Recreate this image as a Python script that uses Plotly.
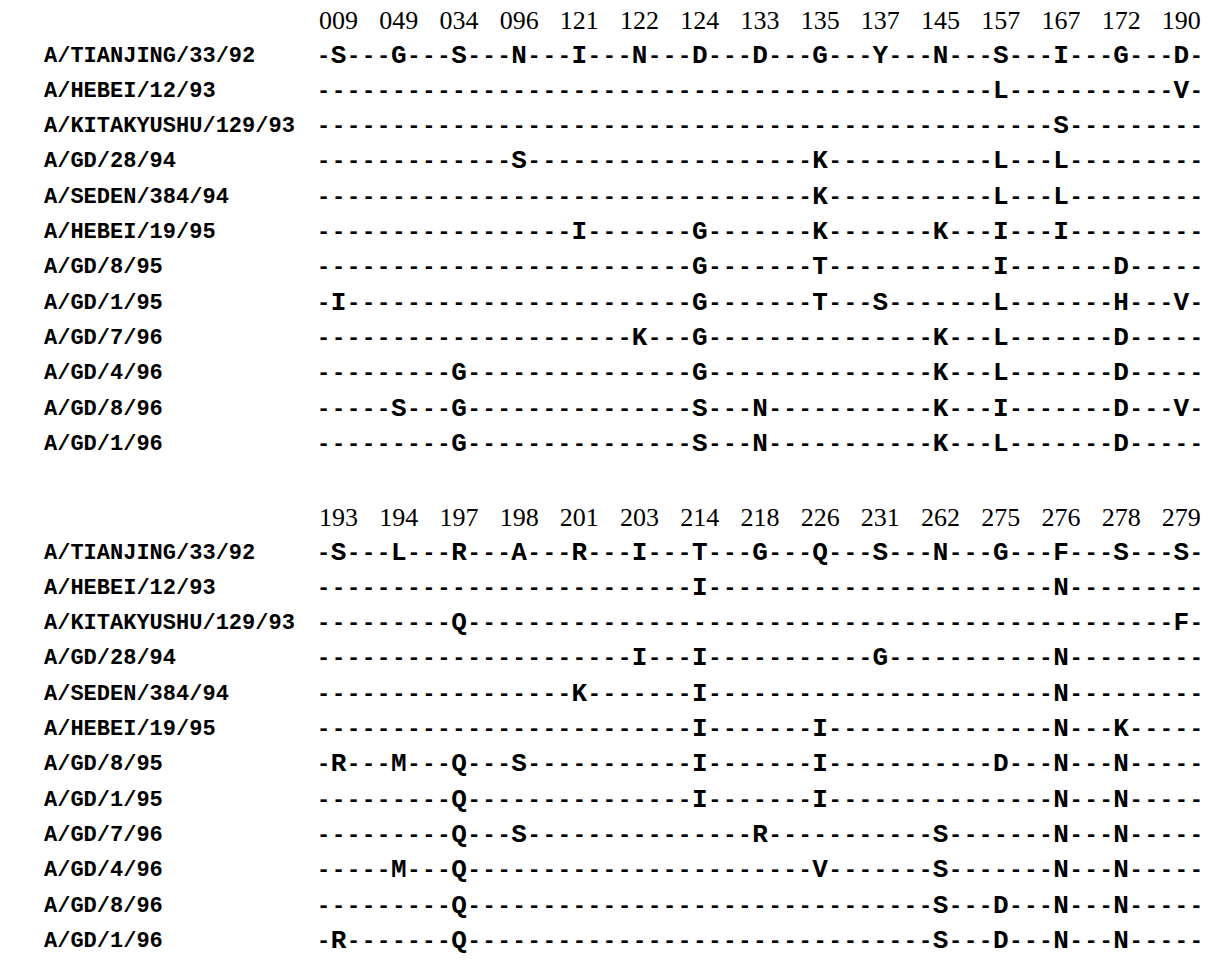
import plotly.graph_objects as go

# ---------------- data ----------------
strains = ["A/TIANJING/33/92", "A/HEBEI/12/93", "A/KITAKYUSHU/129/93", "A/GD/28/94",
           "A/SEDEN/384/94", "A/HEBEI/19/95", "A/GD/8/95", "A/GD/1/95",
           "A/GD/7/96", "A/GD/4/96", "A/GD/8/96", "A/GD/1/96"]

positions_1 = ["009", "049", "034", "096", "121", "122", "124", "133",
               "135", "137", "145", "157", "167", "172", "190"]
positions_2 = ["193", "194", "197", "198", "201", "203", "214", "218",
               "226", "231", "262", "275", "276", "278", "279"]

# residues at each position; "-" = identical to A/TIANJING/33/92
block_1 = ["SGSNINDDGYNSIGD",
           "-----------L--V",
           "------------S--",
           "---S----K--LL--",
           "--------K--LL--",
           "----I-G-K-KII--",
           "------G-T--I-D-",
           "I-----G-TS-L-HV",
           "-----KG---KL-D-",
           "--G---G---KL-D-",
           "-SG---SN--KI-DV",
           "--G---SN--KL-D-"]

block_2 = ["SLRARITGQSNGFSS",
           "------I-----N--",
           "--Q-----------F",
           "-----II--G--N--",
           "----K-I-----N--",
           "------I-I---NK-",
           "RMQS--I-I--DNN-",
           "--Q---I-I---NN-",
           "--QS---R--S-NN-",
           "-MQ-----V-S-NN-",
           "--Q-------SDNN-",
           "R-Q-------SDNN-"]

# ---------------- layout helpers ----------------
CHAR_PX = 15.05          # width of one character cell
COL0_PX = 323.5          # centre of first character cell
ROW_PX = 35.3            # line spacing
ROW0_PX = 56.0           # first line of block 1
BLOCK2_OFFSET = 14.08    # in line units
HEADER_OFFSET = -0.95
LABEL_PX = 44.0
W, H = 1210, 972

MONO = "Liberation Mono, Courier New, monospace"
SERIF = "Liberation Serif, Times New Roman, serif"


def row_chars(residues):
    """expand 15 residues into the '-X---X---...X-' line, one char per cell"""
    chars = []
    for i, r in enumerate(residues):
        chars.append("-")
        chars.append(r)
        if i < len(residues) - 1:
            chars.extend(["-", "-"])
    chars.append("-")
    return chars


fig = go.Figure()

for b, (block, positions) in enumerate([(block_1, positions_1), (block_2, positions_2)]):
    y0 = b * BLOCK2_OFFSET
    # header numbers, centred on residue cells
    fig.add_trace(go.Scatter(
        x=[1 + 4 * i for i in range(len(positions))],
        y=[y0 + HEADER_OFFSET] * len(positions),
        text=positions, mode="text", textposition="middle center",
        textfont=dict(family=SERIF, size=26, color="#000"),
        hoverinfo="skip", showlegend=False))
    # strain labels
    fig.add_trace(go.Scatter(
        x=[(LABEL_PX - COL0_PX) / CHAR_PX] * len(strains),
        y=[y0 + r for r in range(len(strains))],
        text=strains, mode="text", textposition="middle right",
        textfont=dict(family=MONO, size=22, color="#000", weight="bold"),
        hoverinfo="skip", showlegend=False))
    # sequence cells: residues and identity dashes
    lx, ly, lt, dx, dy = [], [], [], [], []
    for r, residues in enumerate(block):
        for c, ch in enumerate(row_chars(residues)):
            if ch == "-":
                dx.append(c)
                dy.append(y0 + r)
            else:
                lx.append(c)
                ly.append(y0 + r)
                lt.append(ch)
    fig.add_trace(go.Scatter(
        x=dx, y=dy, text=["-"] * len(dx), mode="text", textposition="middle center",
        textfont=dict(family=MONO, size=22, color="#000", weight="bold"),
        hoverinfo="skip", showlegend=False))
    fig.add_trace(go.Scatter(
        x=lx, y=ly, text=lt, mode="text", textposition="middle center",
        textfont=dict(family=MONO, size=26, color="#000", weight="bold"),
        hoverinfo="skip", showlegend=False))

fig.update_layout(
    width=W, height=H,
    margin=dict(l=0, r=0, t=0, b=0),
    paper_bgcolor="white", plot_bgcolor="white",
    xaxis=dict(range=[(0 - COL0_PX) / CHAR_PX, (W - COL0_PX) / CHAR_PX],
               visible=False, fixedrange=True),
    yaxis=dict(range=[(H - ROW0_PX) / ROW_PX, (0 - ROW0_PX) / ROW_PX],
               visible=False, fixedrange=True),
)

fig.write_html("out.html",
               config={"displayModeBar": False},
               post_script="document.body.style.margin='0';document.body.style.overflow='hidden';")
